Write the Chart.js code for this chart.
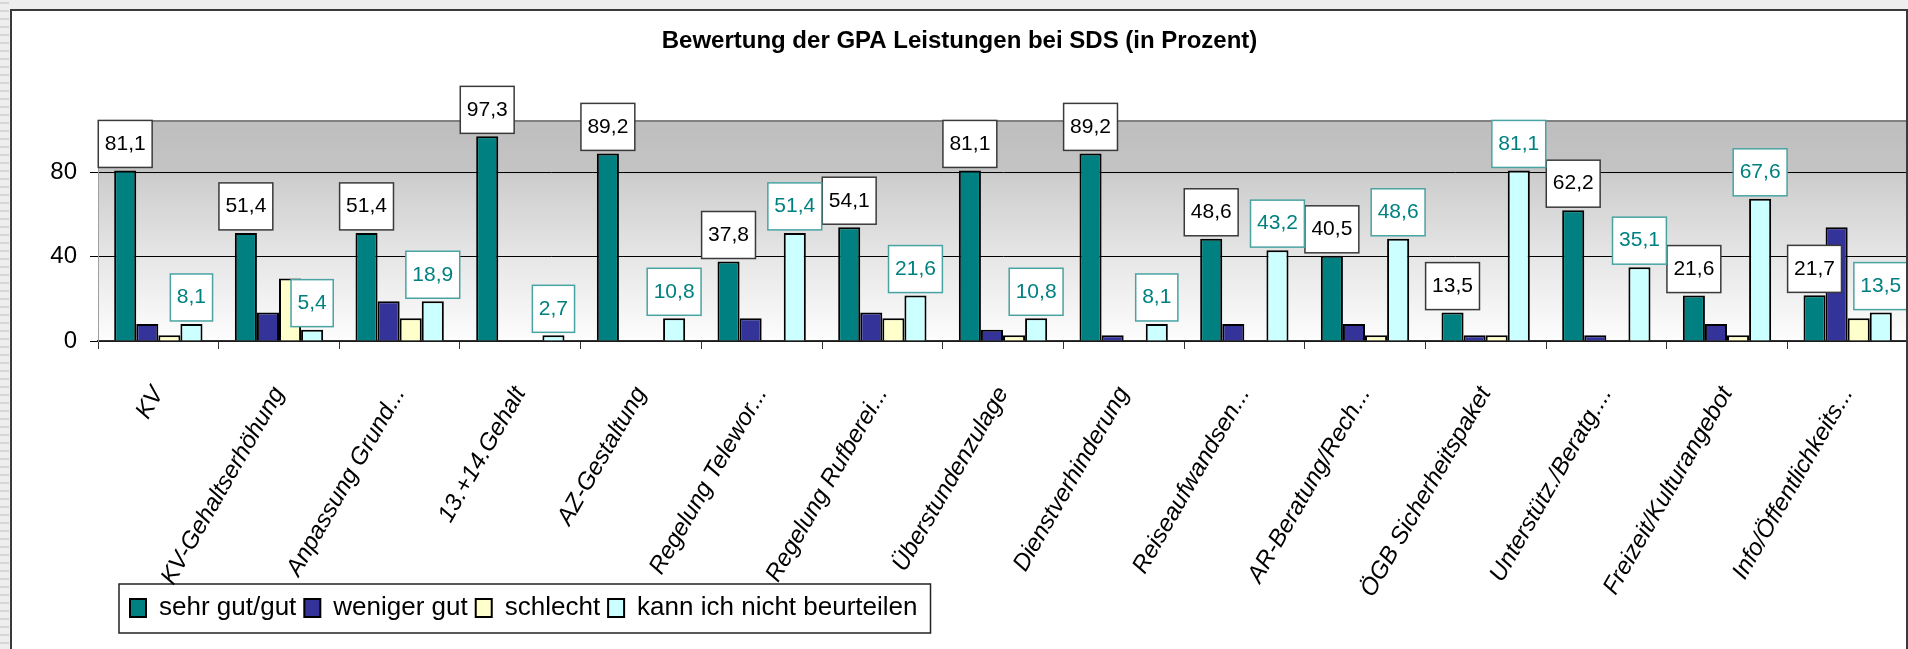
<!DOCTYPE html>
<html>
<head>
<meta charset="utf-8">
<title>Bewertung der GPA Leistungen bei SDS</title>
<script src="https://cdn.jsdelivr.net/npm/chart.js@4.4.0/dist/chart.umd.min.js"></script>
<style>
  html, body { margin: 0; padding: 0; background: #ececec; overflow: hidden; }
  #chart-wrapper { width: 1908px; height: 649px; }
</style>
</head>
<body>
<div id="chart-wrapper"><canvas id="chart" width="1908" height="649"></canvas></div>
<script>
var categories = ['KV', 'KV-Gehaltserhöhung', 'Anpassung Grund...', '13.+14.Gehalt', 'AZ-Gestaltung',
  'Regelung Telewor...', 'Regelung Rufberei...', 'Überstundenzulage', 'Dienstverhinderung',
  'Reiseaufwandsen...', 'AR-Beratung/Rech...', 'ÖGB Sicherheitspaket', 'Unterstütz./Beratg....',
  'Freizeit/Kulturangebot', 'Info/Öffentlichkeits...'];
var sehrGut    = [81.1, 51.4, 51.4, 97.3, 89.2, 37.8, 54.1, 81.1, 89.2, 48.6, 40.5, 13.5, 62.2, 21.6, 21.7];
var wenigerGut = [8.1, 13.5, 18.9, 0, 0, 10.8, 13.5, 5.4, 2.7, 8.1, 8.1, 2.7, 2.7, 8.1, 54.1];
var schlecht   = [2.7, 29.7, 10.8, 0, 0, 0, 10.8, 2.7, 0, 0, 2.7, 2.7, 0, 2.7, 10.8];
var kannNicht  = [8.1, 5.4, 18.9, 2.7, 10.8, 51.4, 21.6, 10.8, 8.1, 43.2, 48.6, 81.1, 35.1, 67.6, 13.5];
var seriesNames = ['sehr gut/gut', 'weniger gut', 'schlecht', 'kann ich nicht beurteilen'];
var yTicks = [0, 40, 80];
var yMax = 104.6;
var chartTitle = 'Bewertung der GPA Leistungen bei SDS (in Prozent)';

var FONT = '"Liberation Sans", Arial, sans-serif';

// which series get a value box, and how it looks
var boxStyles = {
  0: { text: '#000000', border: '#3a3a3a' },
  3: { text: '#008080', border: '#4aa3a3' }
};

// window + white frame + grey gradient plot area
var frameBg = {
  id: 'frameBg',
  beforeDraw: function(chart) {
    var ctx = chart.ctx, a = chart.chartArea;
    ctx.save();
    ctx.fillStyle = '#eeeeee';
    ctx.fillRect(0, 0, chart.width, chart.height);
    ctx.fillStyle = '#d6d6d6';
    for (var y = 2; y < chart.height; y += 8) ctx.fillRect(0, y, 9, 2);
    ctx.fillStyle = '#ffffff';
    ctx.fillRect(10, 9, chart.width - 10, chart.height - 9);
    ctx.strokeStyle = '#3a3a3a';
    ctx.lineWidth = 2;
    ctx.beginPath();
    ctx.moveTo(11, chart.height);
    ctx.lineTo(11, 10);
    ctx.lineTo(chart.width, 10);
    ctx.stroke();

    var g = ctx.createLinearGradient(0, a.top, 0, a.bottom);
    g.addColorStop(0, '#bebebe');
    g.addColorStop(0.23, '#c4c4c4');
    g.addColorStop(0.25, '#cdcdcd');
    g.addColorStop(0.62, '#e6e6e6');
    g.addColorStop(1, '#fdfdfd');
    ctx.fillStyle = g;
    ctx.fillRect(a.left, a.top, a.right - a.left, a.bottom - a.top);
    ctx.strokeStyle = '#808080';
    ctx.lineWidth = 2;
    ctx.beginPath();
    ctx.moveTo(a.left, a.top);
    ctx.lineTo(a.right, a.top);
    ctx.stroke();
    ctx.restore();
  },
  afterDraw: function(chart) {
    var ctx = chart.ctx;
    ctx.save();
    ctx.strokeStyle = '#3a3a3a';
    ctx.lineWidth = 2;
    ctx.beginPath();
    ctx.moveTo(chart.width - 1, 10);
    ctx.lineTo(chart.width - 1, chart.height);
    ctx.stroke();
    ctx.restore();
  }
};

// value boxes above the bars
var valueBoxes = {
  id: 'valueBoxes',
  afterDatasetsDraw: function(chart) {
    var ctx = chart.ctx;
    ctx.save();
    ctx.font = '21px ' + FONT;
    ctx.textAlign = 'center';
    ctx.textBaseline = 'middle';
    Object.keys(boxStyles).forEach(function(k) {
      var di = +k, st = boxStyles[k];
      var ds = chart.data.datasets[di];
      chart.getDatasetMeta(di).data.forEach(function(bar, i) {
        var txt = ds.data[i].toFixed(1).replace('.', ',');
        var w = ctx.measureText(txt).width + 13, h = 47;
        var x = bar.x - w / 2, y = bar.y - 3 - h;
        ctx.fillStyle = '#ffffff';
        ctx.fillRect(x, y, w, h);
        ctx.strokeStyle = st.border;
        ctx.lineWidth = 1.5;
        ctx.strokeRect(x, y, w, h);
        ctx.fillStyle = st.text;
        ctx.fillText(txt, bar.x, y + h / 2);
      });
    });
    ctx.restore();
  }
};

// legend sits over the axis labels in a framed white box
var legendFrame = {
  id: 'legendFrame',
  afterLayout: function(chart) {
    // let the rotated category labels run on under the legend
    chart.scales.x.bottom = chart.height;
    var lg = chart.legend;
    lg.left += 24;
    lg.right += 24;
    if (lg._framed) return;
    lg._framed = true;
    var draw = lg.draw;
    lg.draw = function(area) {
      var ctx = this.ctx, pad = this.options.labels.padding;
      var x0 = this.left - 3;
      var x1 = this.left + pad + this.lineWidths[0] - pad + 13;
      ctx.save();
      ctx.fillStyle = '#ffffff';
      ctx.fillRect(x0, this.top - 3, x1 - x0, this.height + 5);
      ctx.strokeStyle = '#222222';
      ctx.lineWidth = 1.5;
      ctx.strokeRect(x0, this.top - 3, x1 - x0, this.height + 5);
      ctx.restore();
      draw.call(this, area);
    };
  }
};

var fills = ['#008080', '#333399', '#ffffcc', '#ccffff'];
var values = [sehrGut, wenigerGut, schlecht, kannNicht];

var data = {
  labels: categories,
  datasets: seriesNames.map(function(name, i) {
    return {
      label: name,
      data: values[i],
      backgroundColor: fills[i],
      borderColor: '#000000',
      borderWidth: 2,
      categoryPercentage: 0.732,
      barPercentage: 1.0
    };
  })
};

Chart.defaults.font.family = FONT;
Chart.defaults.color = '#000000';

var ctx = document.getElementById('chart');
var chart = new Chart(ctx, {
  type: 'bar',
  data: data,
  plugins: [frameBg, valueBoxes, legendFrame],
  options: {
    responsive: false,
    animation: false,
    layout: {
      padding: { left: 11, right: 0, top: 0, bottom: 18 }
    },
    plugins: {
      title: {
        display: true,
        text: chartTitle,
        color: '#000000',
        font: { size: 24, weight: 'bold' },
        padding: { top: 27, bottom: 65.2 }
      },
      legend: {
        position: 'bottom',
        align: 'start',
        fullSize: false,
        labels: {
          font: { size: 26 },
          color: '#000000',
          boxWidth: 16,
          boxHeight: 18,
          padding: 8
        }
      },
      tooltip: { enabled: false }
    },
    scales: {
      x: {
        grid: {
          display: true,
          drawOnChartArea: false,
          drawTicks: true,
          tickLength: 8,
          tickColor: '#333333',
          offset: true
        },
        border: { display: true, color: '#333333', width: 1.5 },
        ticks: {
          autoSkip: false,
          minRotation: 60,
          maxRotation: 60,
          padding: 33,
          color: '#000000',
          font: { size: 24, style: 'italic' }
        },
        afterFit: function(scale) { scale.height = 246; }
      },
      y: {
        min: 0,
        max: yMax,
        afterBuildTicks: function(scale) {
          scale.ticks = yTicks.map(function(v) { return { value: v }; });
        },
        grid: {
          color: '#000000',
          lineWidth: 1,
          tickLength: 8
        },
        border: { display: true, color: '#a0a0a0', width: 1 },
        ticks: {
          padding: 13,
          color: '#000000',
          font: { size: 24 }
        },
        afterFit: function(scale) { scale.width = 87; }
      }
    }
  }
});
</script>
</body>
</html>
